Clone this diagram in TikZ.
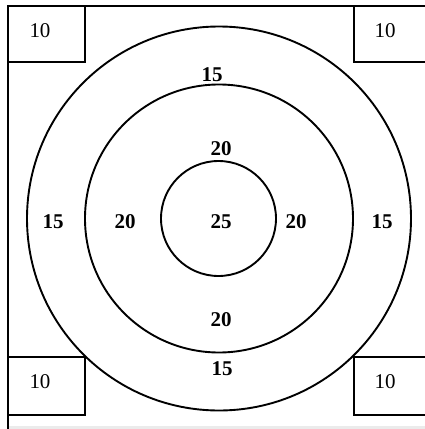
\documentclass[tikz,border=0pt]{standalone}
\usepackage{fontspec}
\setmainfont{Liberation Serif}
\usepackage{xcolor}
\usepackage{tikz}
\definecolor{inkc}{HTML}{000000}
\definecolor{edgec}{HTML}{EBEBEB}

\begin{document}
\begin{tikzpicture}[x=1pt,y=-1pt,line width=1.9pt]
  \useasboundingbox (0,0) rectangle (425,429);
  \tikzset{ringnum/.style={font=\fontsize{21}{25}\selectfont\bfseries,inkc},
    cornernum/.style={font=\fontsize{21}{25}\selectfont,inkc}}
  \fill[edgec] (9,426) rectangle (425,429); % cropped page edge
  % frame, open to the right and below
  \draw[inkc] (8,429) -- (8,6) -- (426,6);
  % corner boxes
  \draw[inkc] (8,6) rectangle (85,62);
  \draw[inkc] (426,6) -- (354,6) -- (354,62) -- (426,62);
  \draw[inkc] (8,357) rectangle (85,415);
  \draw[inkc] (426,357) -- (354,357) -- (354,415) -- (426,415);
  \node[cornernum] (tl) at (40,31) {10};
  \node[cornernum] (tr) at (385,31) {10};
  \node[cornernum] (bl) at (40,382) {10};
  \node[cornernum] (br) at (385,382) {10};
  % rings
  \draw[inkc] (219,218.5) circle[radius=192pt];
  \draw[inkc] (219,218.5) circle[radius=134pt];
  \draw[inkc] (218.5,218.5) circle[radius=57.5pt];
  \node[ringnum] (outN) at (212,75) {15};
  \node[ringnum] (outS) at (222,369) {15};
  \node[ringnum] (outW) at (53,222) {15};
  \node[ringnum] (outE) at (382,222) {15};
  \node[ringnum] (midN) at (221,149) {20};
  \node[ringnum] (midS) at (221,320) {20};
  \node[ringnum] (midW) at (125,222) {20};
  \node[ringnum] (midE) at (296,222) {20};
  \node[ringnum] (bull) at (221,222) {25};
\end{tikzpicture}
\end{document}
